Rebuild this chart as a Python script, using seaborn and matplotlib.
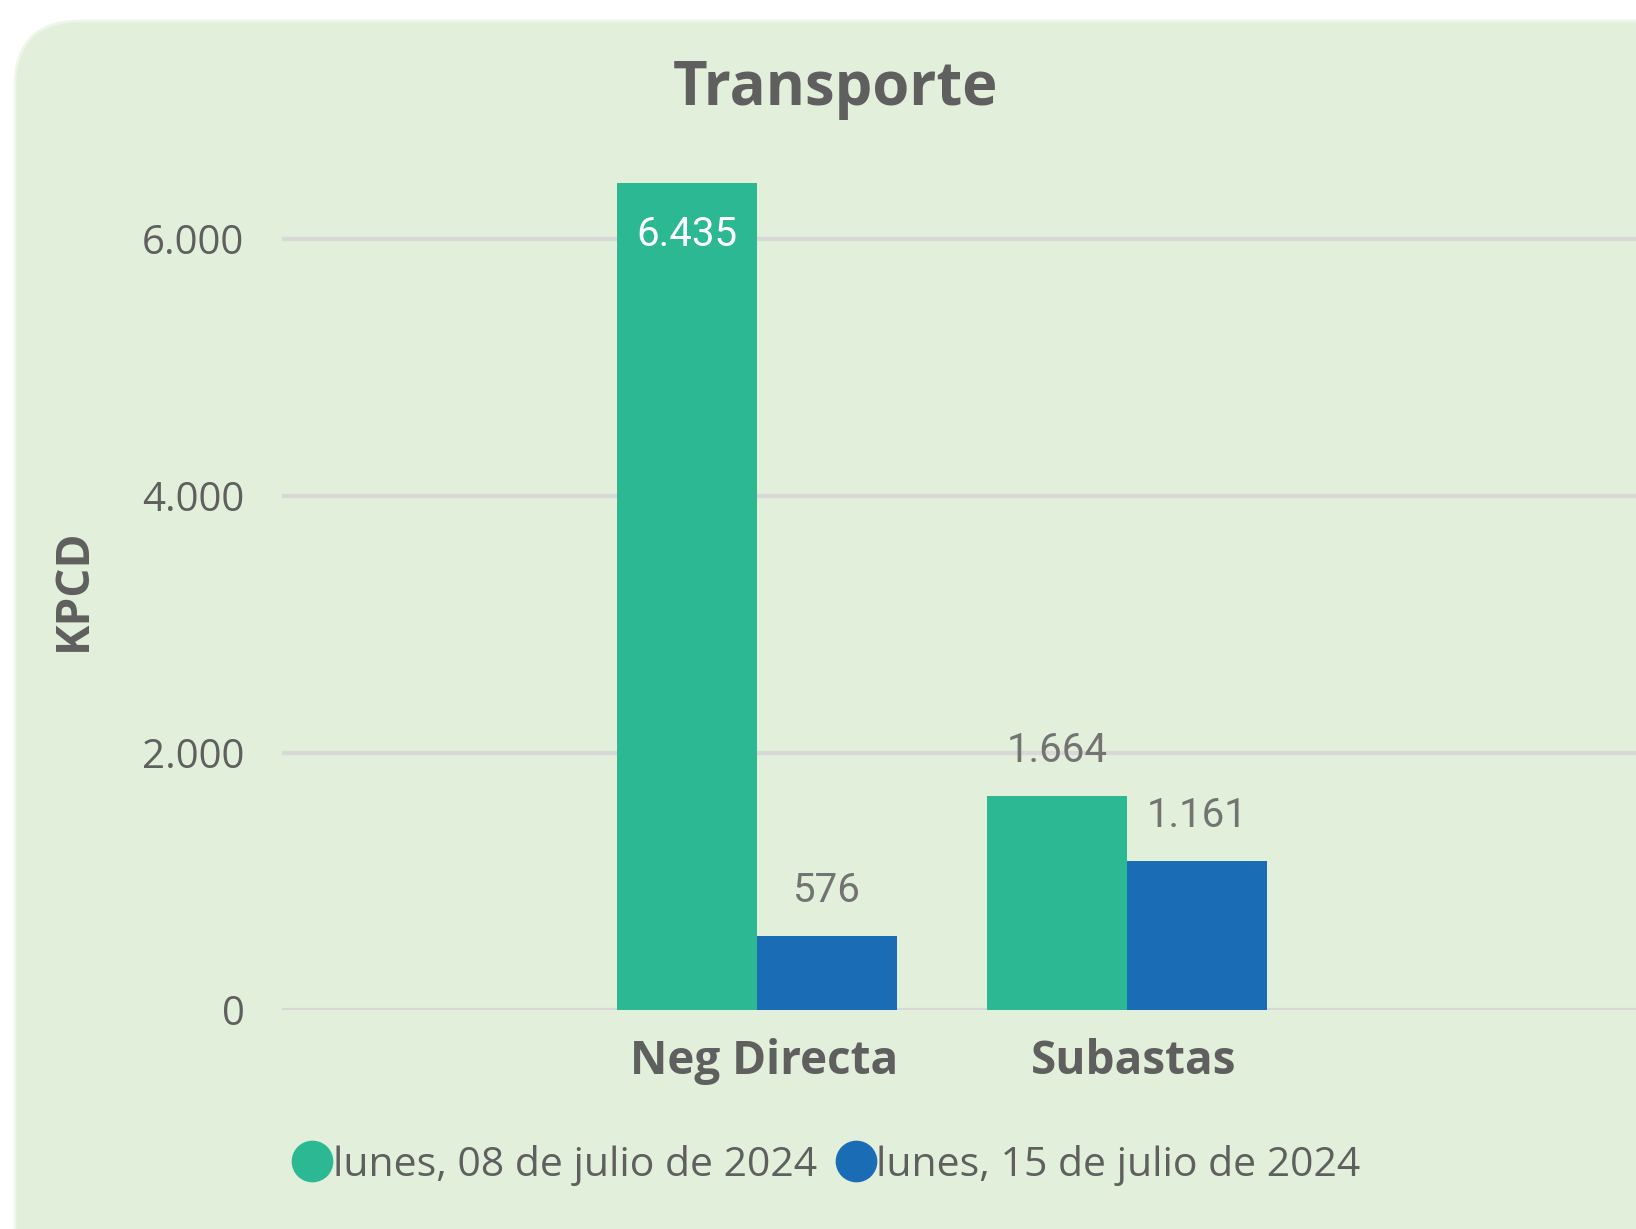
import matplotlib
matplotlib.use("Agg")
import matplotlib.pyplot as plt
import matplotlib.transforms as mtransforms
import seaborn as sns
import pandas as pd
from matplotlib.patches import FancyBboxPatch
from matplotlib.lines import Line2D
from matplotlib.ticker import FuncFormatter

categories = ["Neg Directa", "Subastas"]
dates = ["lunes, 08 de julio de 2024", "lunes, 15 de julio de 2024"]
values_0807 = [6435, 1664]
values_1507 = [576, 1161]
colors = ["#2BB893", "#1A6DB5"]

df = pd.DataFrame({
    "categoria": categories * 2,
    "fecha": [dates[0]] * 2 + [dates[1]] * 2,
    "kpcd": values_0807 + values_1507,
})

sns.set_theme(style="white")
plt.rcParams["font.family"] = ["Open Sans", "DejaVu Sans"]

gray = "#5F5F5F"
bg = "#E2EFDA"

fig = plt.figure(figsize=(16.36, 12.29), dpi=100)
fig.patch.set_facecolor("white")

panel = FancyBboxPatch((15 / 1636, -0.1), 1.2, 1.1 - 21 / 1229,
                       boxstyle="round,pad=0,rounding_size=0.04",
                       transform=fig.transFigure, facecolor=bg,
                       edgecolor="#EEF5E9", linewidth=2, zorder=-10,
                       mutation_aspect=1636 / 1229)
fig.patches.append(panel)

ax = fig.add_axes([282 / 1636, 0.1782, 1 - 282 / 1636, 0.690])
ax.set_facecolor("none")
ax.set_zorder(2)

sns.barplot(data=df, x="categoria", y="kpcd", hue="fecha", palette=colors,
            width=0.757, saturation=1, ax=ax, legend=False, zorder=3,
            linewidth=0, edgecolor="none")

ax.set_xlim(-1.284, 2.376)
ax.set_ylim(0, 6600)
ax.set_yticks([0, 2000, 4000, 6000])
ax.yaxis.set_major_formatter(FuncFormatter(lambda v, p: f"{int(v):,}".replace(",", ".")))
ax.grid(axis="y", color="#D8D8D8", linewidth=3, zorder=0)
ax.set_axisbelow(True)
for s in ax.spines.values():
    s.set_visible(False)

ax.tick_params(axis="y", labelsize=29, labelcolor=gray, pad=27, length=0)
ax.tick_params(axis="x", labelsize=33, labelcolor=gray, pad=20, length=0)
shift = mtransforms.ScaledTranslation(7 / 100, 0, fig.dpi_scale_trans)
for lab in ax.get_xticklabels():
    lab.set_fontweight("bold")
    lab.set_transform(lab.get_transform() + shift)

ax.set_xlabel("")
ax.set_ylabel("KPCD", fontsize=33, fontweight="bold", color=gray)
ax.yaxis.set_label_coords(-0.1365, 0.495)

# data labels
lab_font = ["Roboto", "DejaVu Sans"]
for container in ax.containers:
    for bar in container:
        h = bar.get_height()
        txt = f"{int(h):,}".replace(",", ".")
        xc = bar.get_x() + bar.get_width() / 2
        if h > 5000:
            ax.text(xc, h - 250, txt, ha="center", va="top", color="white",
                    fontsize=29, family=lab_font, zorder=4)
        else:
            ax.text(xc, h + 200, txt, ha="center", va="bottom", color="#737373",
                    fontsize=29, family=lab_font, zorder=4)

fig.text(835 / 1636, 1 - 89 / 1229, "Transporte", ha="center", va="center",
         fontsize=43, fontweight="bold", color=gray)

handles = [Line2D([0], [0], marker="o", linestyle="", markersize=29,
                  markerfacecolor=c, markeredgecolor=c) for c in colors]
fig.legend(handles, dates, loc="center", bbox_to_anchor=(826 / 1636, 1 - 1165 / 1229),
           ncol=2, frameon=False, fontsize=29.5, labelcolor=gray,
           handletextpad=0.0, columnspacing=0.45, handlelength=1.0)

fig.savefig("out.png", dpi=100, facecolor="white")
